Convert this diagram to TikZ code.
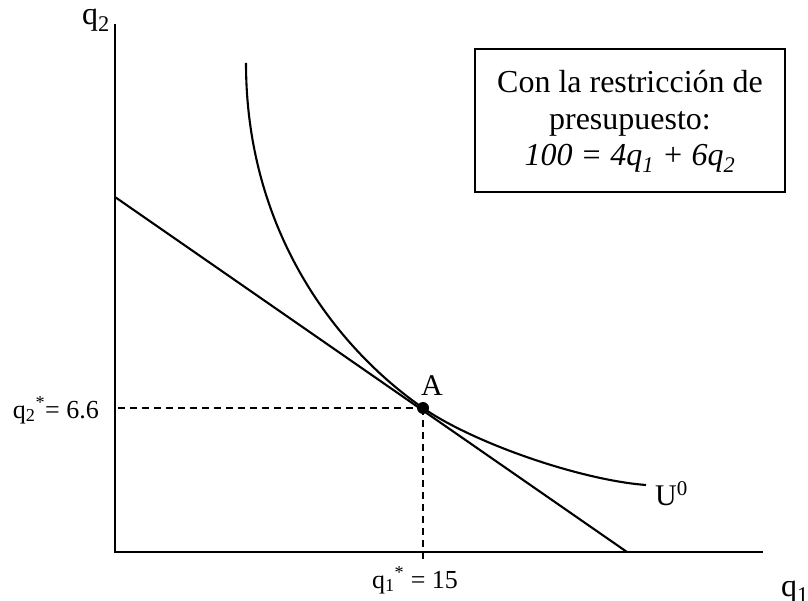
\documentclass[tikz,border=0pt]{standalone}
\usepackage{fontspec}
\setmainfont{Liberation Serif}
\begin{document}
\begin{tikzpicture}[x=1pt,y=-1pt,
  axis/.style={line width=2.8pt},
  curve/.style={line width=2.1pt},
  guide/.style={line width=2pt, dash pattern=on 7pt off 5pt},
  lbl/.style={inner sep=0pt},
  bigtxt/.style={font=\fontsize{32}{36.5}\selectfont},
  midtxt/.style={font=\fontsize{30}{34}\selectfont},
  smalltxt/.style={font=\fontsize{26}{30}\selectfont}]
\useasboundingbox (0,0) rectangle (808,601);
% axes
\coordinate (O) at (115,552);
\coordinate (Ytop) at (115,24);
\coordinate (Xend) at (763,552);
\draw[axis] (Ytop) -- (O) -- (Xend);
\node[lbl, bigtxt, anchor=base west] (q2) at (82,25) {q\textsubscript{2}};
\node[lbl, bigtxt, anchor=base west] (q1) at (781,596) {q\textsubscript{1}};
% budget line
\coordinate (B1) at (115,197);
\coordinate (B2) at (627,552);
\draw[curve] (B1) -- (B2);
% tangency point
\coordinate (A) at (423,408);
% indifference curve
\coordinate (U1) at (246,63);
\coordinate (U2) at (646,485);
\draw[curve] (U1) .. controls (246,230) and (335,347) .. (A)
  .. controls (473,442.75) and (580,480) .. (U2);
% guides
\coordinate (Gy) at (118,408);
\coordinate (Gx) at (423,561);
\draw[guide] (Gy) -- (A);
\draw[guide] (A) -- (Gx);
\fill (A) circle (6);
\node[lbl, midtxt, anchor=base west] (Alab) at (421,395) {A};
\node[lbl, midtxt, anchor=base west] (Ulab) at (655,505) {U\textsuperscript{0}};
\node[lbl, smalltxt, anchor=base east] (q2s) at (99,418) {q\textsubscript{2}\textsuperscript{*}= 6.6};
\node[lbl, smalltxt, anchor=base] (q1s) at (415,588) {q\textsubscript{1}\textsuperscript{*} = 15};
% box
\node[draw, line width=2.2pt, minimum width=310pt, minimum height=143pt, inner sep=0pt] (box) at (630,120.5) {};
\node[lbl, bigtxt, align=center, anchor=base] (boxtxt) at (630,166) {Con la restricción de\\presupuesto:\\\textit{100 = 4q\textsubscript{1} + 6q\textsubscript{2}}};
\end{tikzpicture}
\end{document}
